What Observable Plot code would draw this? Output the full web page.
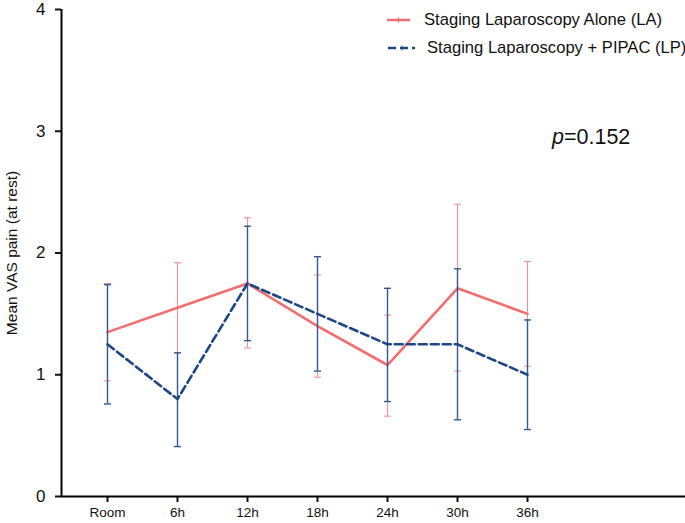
<!DOCTYPE html>
<html>
<head>
<meta charset="utf-8">
<script src="https://cdn.jsdelivr.net/npm/d3@7"></script>
<script src="https://cdn.jsdelivr.net/npm/@observablehq/plot@0.6"></script>
<style>
  html, body { margin: 0; padding: 0; background: #fff; }
  #wrap { position: relative; width: 685px; height: 523px; font-family: "Liberation Sans", Arial, sans-serif; }
  .leg { position: absolute; height: 20px; display: flex; align-items: center; font-size: 16.6px; color: #111; white-space: nowrap; }
  .leg svg { display: block; }
  #pval { position: absolute; left: 552px; top: 127px; font-size: 21.5px; line-height: 21px; color: #111; white-space: nowrap; }
</style>
</head>
<body>
<div id="wrap"></div>
<script>
const timepoints = ["Room", "6h", "12h", "18h", "24h", "30h", "36h"];
const laMean  = [1.35, 1.55, 1.75, 1.40, 1.08, 1.71, 1.50];
const laUpper = [1.75, 1.92, 2.29, 1.82, 1.49, 2.40, 1.93];
const laLower = [0.95, 1.18, 1.22, 0.98, 0.66, 1.03, 1.07];
const lpMean  = [1.25, 0.80, 1.75, 1.50, 1.25, 1.25, 1.00];
const lpUpper = [1.74, 1.18, 2.22, 1.97, 1.71, 1.87, 1.45];
const lpLower = [0.76, 0.41, 1.28, 1.03, 0.78, 0.63, 0.55];
const yTicks = [0, 1, 2, 3, 4];
const seriesNames = ["Staging Laparoscopy Alone (LA)", "Staging Laparoscopy + PIPAC (LP)"];
const yLabel = "Mean VAS pain (at rest)";
const pText = "0.152";

const RED = "#f26e6e", RED_ERR = "#f39090";
const BLUE = "#1c4786", BLUE_ERR = "#2f5a94";
const cap = 0.05;

const la = timepoints.map((t, i) => ({i, mean: laMean[i], hi: laUpper[i], lo: laLower[i]}));
const lp = timepoints.map((t, i) => ({i, mean: lpMean[i], hi: lpUpper[i], lo: lpLower[i]}));

function errMarks(data, color, sw) {
  return [
    Plot.ruleX(data, {x: "i", y1: "lo", y2: "hi", stroke: color, strokeWidth: sw}),
    Plot.link(data, {x1: d => d.i - cap, x2: d => d.i + cap, y1: "hi", y2: "hi", stroke: color, strokeWidth: sw}),
    Plot.link(data, {x1: d => d.i - cap, x2: d => d.i + cap, y1: "lo", y2: "lo", stroke: color, strokeWidth: sw})
  ];
}

const chart = Plot.plot({
  width: 685,
  height: 523,
  marginLeft: 61,
  marginRight: 0,
  marginTop: 9,
  marginBottom: 27,
  style: {fontFamily: "Liberation Sans, Arial, sans-serif", color: "#111", background: "#fff"},
  x: {type: "linear", domain: [-0.657, 8.257]},
  y: {domain: [0, 4]},
  marks: [
    Plot.axisY({ticks: yTicks, tickFormat: d => String(d), tickSize: 6, tickPadding: 10, fontSize: 17, strokeWidth: 2, label: null}),
    Plot.axisX({ticks: d3.range(timepoints.length), tickFormat: i => timepoints[i], tickSize: 6, tickPadding: 5, fontSize: 13.5, strokeWidth: 2, label: null}),
    Plot.ruleY([0], {stroke: "#000", strokeWidth: 2}),
    Plot.ruleX([-0.657], {stroke: "#000", strokeWidth: 2}),
    Plot.text([yLabel], {frameAnchor: "left", rotate: -90, dx: -49, fontSize: 15.5, textAnchor: "middle", lineAnchor: "middle", fill: "#111"}),
    ...errMarks(la, RED_ERR, 1.1),
    Plot.line(la, {x: "i", y: "mean", stroke: RED, strokeWidth: 2.6}),
    ...errMarks(lp, BLUE_ERR, 1.4),
    Plot.line(lp, {x: "i", y: "mean", stroke: BLUE, strokeWidth: 2.6, strokeDasharray: "8,4"})
  ]
});

const wrap = document.getElementById("wrap");
wrap.appendChild(chart);

const leg1 = document.createElement("div");
leg1.className = "leg";
leg1.style.left = "387px"; leg1.style.top = "10px";
leg1.innerHTML = `<svg width="37" height="10"><line x1="0" x2="23" y1="5" y2="5" stroke="${RED}" stroke-width="2.5"/><line x1="11.5" x2="11.5" y1="2.5" y2="7.5" stroke="${RED}" stroke-width="1"/></svg><span>${seriesNames[0]}</span>`;
wrap.appendChild(leg1);

const leg2 = document.createElement("div");
leg2.className = "leg";
leg2.style.left = "388px"; leg2.style.top = "38px";
leg2.innerHTML = `<svg width="39" height="10"><line x1="0" x2="27" y1="5" y2="5" stroke="${BLUE}" stroke-width="2.5" stroke-dasharray="8,4"/><line x1="14" x2="14" y1="2.5" y2="7.5" stroke="${BLUE}" stroke-width="1"/></svg><span>${seriesNames[1]}</span>`;
wrap.appendChild(leg2);

const pv = document.createElement("div");
pv.id = "pval";
pv.innerHTML = `<i>p</i>=${pText}`;
wrap.appendChild(pv);
</script>
</body>
</html>
